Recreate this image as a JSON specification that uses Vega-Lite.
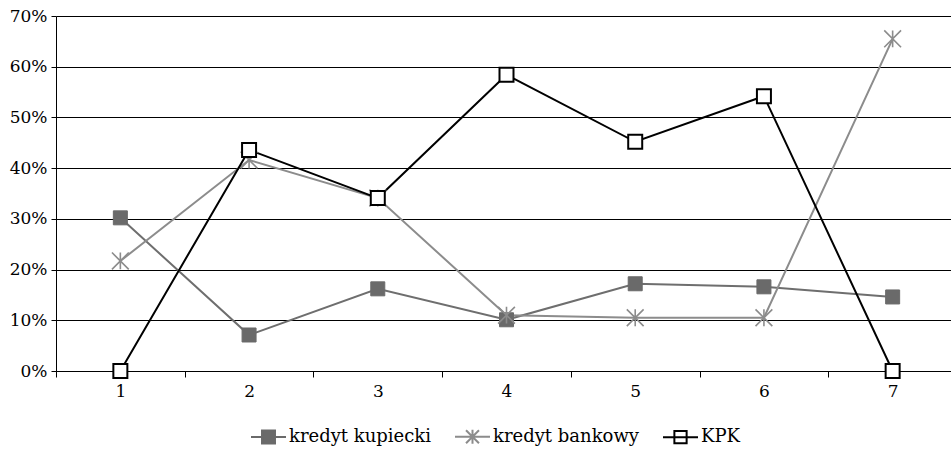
{
  "$schema": "https://vega.github.io/schema/vega-lite/v6.json",
  "autosize": "none",
  "padding": {"left": 56, "top": 16, "right": 0, "bottom": 78},
  "width": 901,
  "height": 355,
  "background": "white",
  "data": {
    "values": [
      {"x": "1", "series": "kredyt kupiecki", "value": 0.302},
      {"x": "2", "series": "kredyt kupiecki", "value": 0.071},
      {"x": "3", "series": "kredyt kupiecki", "value": 0.162},
      {"x": "4", "series": "kredyt kupiecki", "value": 0.101},
      {"x": "5", "series": "kredyt kupiecki", "value": 0.172},
      {"x": "6", "series": "kredyt kupiecki", "value": 0.166},
      {"x": "7", "series": "kredyt kupiecki", "value": 0.146},
      {"x": "1", "series": "kredyt bankowy", "value": 0.217},
      {"x": "2", "series": "kredyt bankowy", "value": 0.416},
      {"x": "3", "series": "kredyt bankowy", "value": 0.341},
      {"x": "4", "series": "kredyt bankowy", "value": 0.11},
      {"x": "5", "series": "kredyt bankowy", "value": 0.105},
      {"x": "6", "series": "kredyt bankowy", "value": 0.105},
      {"x": "7", "series": "kredyt bankowy", "value": 0.655},
      {"x": "1", "series": "KPK", "value": 0.0},
      {"x": "2", "series": "KPK", "value": 0.436},
      {"x": "3", "series": "KPK", "value": 0.341},
      {"x": "4", "series": "KPK", "value": 0.584},
      {"x": "5", "series": "KPK", "value": 0.452},
      {"x": "6", "series": "KPK", "value": 0.542},
      {"x": "7", "series": "KPK", "value": 0.0}
    ]
  },
  "encoding": {
    "x": {
      "field": "x", "type": "ordinal", "title": null,
      "scale": {"type": "band", "paddingInner": 0, "paddingOuter": 0},
      "axis": {"tickBand": "extent", "labelAngle": 0, "tickSize": 6, "labelPadding": 6, "grid": false, "domainColor": "black", "domainWidth": 1}
    },
    "y": {
      "field": "value", "type": "quantitative", "title": null,
      "scale": {"domain": [0, 0.7], "nice": false},
      "axis": {"values": [0, 0.1, 0.2, 0.3, 0.4, 0.5, 0.6, 0.7], "format": ".0%", "grid": true, "tickSize": 5, "labelPadding": 4, "domainColor": "black"}
    }
  },
  "layer": [
    {
      "mark": {"type": "line", "strokeWidth": 2},
      "encoding": {
        "color": {
          "field": "series", "type": "nominal", "legend": null,
          "scale": {"domain": ["KPK", "kredyt bankowy", "kredyt kupiecki"], "range": ["#000000", "#8c8c8c", "#6e6e6e"]}
        },
        "detail": {"field": "series"}
      }
    },
    {
      "transform": [{"filter": "datum.series === 'kredyt kupiecki'"}],
      "mark": {"type": "point", "shape": "square", "filled": true, "size": 196, "fill": "#6a6a6a", "stroke": "#6a6a6a", "strokeWidth": 1, "opacity": 1}
    },
    {
      "transform": [{"filter": "datum.series === 'kredyt bankowy'"}],
      "mark": {"type": "point", "shape": "M0,-1.2V1.2M-1.2,-1.2L1.2,1.2M-1.2,1.2L1.2,-1.2", "filled": false, "size": 196, "stroke": "#8c8c8c", "strokeWidth": 1.6, "opacity": 1}
    },
    {
      "transform": [{"filter": "datum.series === 'KPK'"}],
      "mark": {"type": "point", "shape": "square", "filled": true, "size": 196, "fill": "#ffffff", "stroke": "#000000", "strokeWidth": 2, "opacity": 1}
    },
    {
      "mark": {"type": "point", "filled": true, "size": 0, "opacity": 1},
      "encoding": {
        "shape": {
          "field": "series", "type": "nominal",
          "scale": {"domain": ["kredyt kupiecki", "kredyt bankowy", "KPK"], "range": ["M-1,0H-0.37M0.37,0H1M-0.37,-0.37H0.37V0.37H-0.37Z", "M-1,0H1M0,-0.4V0.4M-0.37,-0.37L0.37,0.37M-0.37,0.37L0.37,-0.37", "M-1,0H1M-0.35,-0.35H0.35V0.35H-0.35Z"]},
          "legend": {"title": null, "orient": "none", "legendX": 194, "legendY": 402, "direction": "horizontal"}
        },
        "fill": {
          "field": "series", "type": "nominal",
          "scale": {"domain": ["kredyt kupiecki", "kredyt bankowy", "KPK"], "range": ["#6a6a6a", "transparent", "#ffffff"]},
          "legend": {"title": null, "orient": "none", "legendX": 194, "legendY": 402, "direction": "horizontal"}
        },
        "stroke": {
          "field": "series", "type": "nominal",
          "scale": {"domain": ["kredyt kupiecki", "kredyt bankowy", "KPK"], "range": ["#6a6a6a", "#8c8c8c", "#000000"]},
          "legend": {"title": null, "orient": "none", "legendX": 194, "legendY": 402, "direction": "horizontal"}
        }
      }
    }
  ],
  "config": {
    "view": {"stroke": null},
    "axis": {
      "labelFont": "DejaVu Serif", "labelFontSize": 17, "labelColor": "black",
      "gridColor": "black", "gridWidth": 1, "gridOpacity": 1,
      "tickColor": "black", "tickWidth": 1, "domainColor": "black", "domainWidth": 1
    },
    "legend": {
      "labelFont": "DejaVu Serif", "labelFontSize": 18, "labelColor": "black",
      "symbolSize": 1225, "symbolStrokeWidth": 2, "labelOffset": 2, "columnPadding": 20
    }
  }
}
